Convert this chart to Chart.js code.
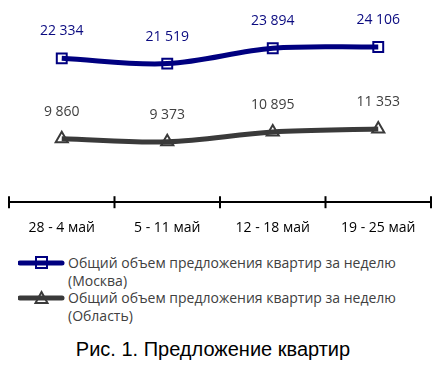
<!DOCTYPE html>
<html lang="ru">
<head>
<meta charset="UTF-8" />
<title>Предложение квартир</title>
<script src="https://cdn.jsdelivr.net/npm/chart.js"></script>
<style>
  body { margin: 0; background: #fff; }
  #wrap { position: relative; width: 440px; height: 366px; overflow: hidden; }
  #chartBox { position: absolute; left: 0; top: 0; width: 440px; height: 245px; }
  .leg { position: absolute; left: 0; display: flex; align-items: flex-start;
         font-family: "Open Sans", sans-serif; font-size: 14px; line-height: 18px; color: #404040; }
  .leg svg { flex: none; margin-left: 18px; margin-right: 2px; }
  #caption { position: absolute; left: -7px; width: 440px; top: 338px; text-align: center;
             font-family: "Liberation Sans", Arial, sans-serif; font-size: 20px; color: #000; }
</style>
</head>
<body>
<div id="wrap">
  <div id="chartBox"><canvas id="chart"></canvas></div>
  <div class="leg" style="top:254px">
    <svg width="48" height="18"><line x1="2" y1="9" x2="44" y2="9" stroke="#000080" stroke-width="5" stroke-linecap="round"/><rect x="18" y="3" width="11" height="11" fill="none" stroke="#000080" stroke-width="2"/></svg>
    <div>Общий объем предложения квартир за неделю<br>(Москва)</div>
  </div>
  <div class="leg" style="top:289px">
    <svg width="48" height="18"><line x1="2" y1="9" x2="44" y2="9" stroke="#3a3a3a" stroke-width="5" stroke-linecap="round"/><polygon points="23.5,3 29.5,14 17.5,14" fill="none" stroke="#3a3a3a" stroke-width="2"/></svg>
    <div>Общий объем предложения квартир за неделю<br>(Область)</div>
  </div>
  <div id="caption">Рис. 1. Предложение квартир</div>
</div>

<script>
const weeks = ["28 - 4 май", "5 - 11 май", "12 - 18 май", "19 - 25 май"];
const moscow = [22334, 21519, 23894, 24106];
const region = [9860, 9373, 10895, 11353];

function fmt(v) {
    return String(v).replace(/\B(?=(\d{3})+(?!\d))/g, " ");
}

// value labels above each point
const valueLabels = {
    id: "valueLabels",
    afterDatasetsDraw(chart) {
        const ctx = chart.ctx;
        ctx.save();
        ctx.font = "14px 'Open Sans'";
        ctx.textAlign = "center";
        ctx.textBaseline = "middle";
        chart.data.datasets.forEach((ds, i) => {
            ctx.fillStyle = ds.labelColor;
            chart.getDatasetMeta(i).data.forEach((pt, j) => {
                ctx.fillText(fmt(ds.data[j]), pt.x, pt.y - 27);
            });
        });
        ctx.restore();
    }
};

// tick marks across the axis line at category boundaries
const axisTicks = {
    id: "axisTicks",
    afterDraw(chart) {
        const x = chart.scales.x;
        const ctx = chart.ctx;
        const y = x.top;
        ctx.save();
        ctx.strokeStyle = "#000";
        ctx.lineWidth = 2;
        for (let i = 0; i <= weeks.length; i++) {
            const px = x.getPixelForValue(i - 0.5);
            ctx.beginPath();
            ctx.moveTo(px, y - 6);
            ctx.lineTo(px, y + 6);
            ctx.stroke();
        }
        ctx.restore();
    }
};

new Chart(document.getElementById("chart"), {
    type: "line",
    data: {
        labels: weeks,
        datasets: [{
            label: "Общий объем предложения квартир за неделю (Москва)",
            data: moscow,
            borderColor: "#000080",
            borderWidth: 5,
            tension: 0.35,
            pointStyle: "rect",
            pointRadius: 7,
            pointBorderWidth: 2,
            pointBorderColor: "#000080",
            pointBackgroundColor: "rgba(255,255,255,0)",
            labelColor: "#0a0a80"
        }, {
            label: "Общий объем предложения квартир за неделю (Область)",
            data: region,
            borderColor: "#3a3a3a",
            borderWidth: 5,
            tension: 0.35,
            pointStyle: "triangle",
            pointRadius: 7,
            pointBorderWidth: 2,
            pointBorderColor: "#3a3a3a",
            pointBackgroundColor: "rgba(255,255,255,0)",
            labelColor: "#404040"
        }]
    },
    options: {
        responsive: true,
        maintainAspectRatio: false,
        animation: false,
        layout: { padding: { left: 9, right: 9, top: 9, bottom: 0 } },
        plugins: { legend: { display: false }, tooltip: { enabled: false } },
        scales: {
            x: {
                offset: true,
                grid: { display: false },
                border: { display: true, color: "#000", width: 2 },
                ticks: { color: "#000", padding: 9, font: { family: "Open Sans", size: 14 } }
            },
            y: { display: false, min: 0, max: 30000 }
        }
    },
    plugins: [valueLabels, axisTicks]
});
</script>
</body>
</html>
